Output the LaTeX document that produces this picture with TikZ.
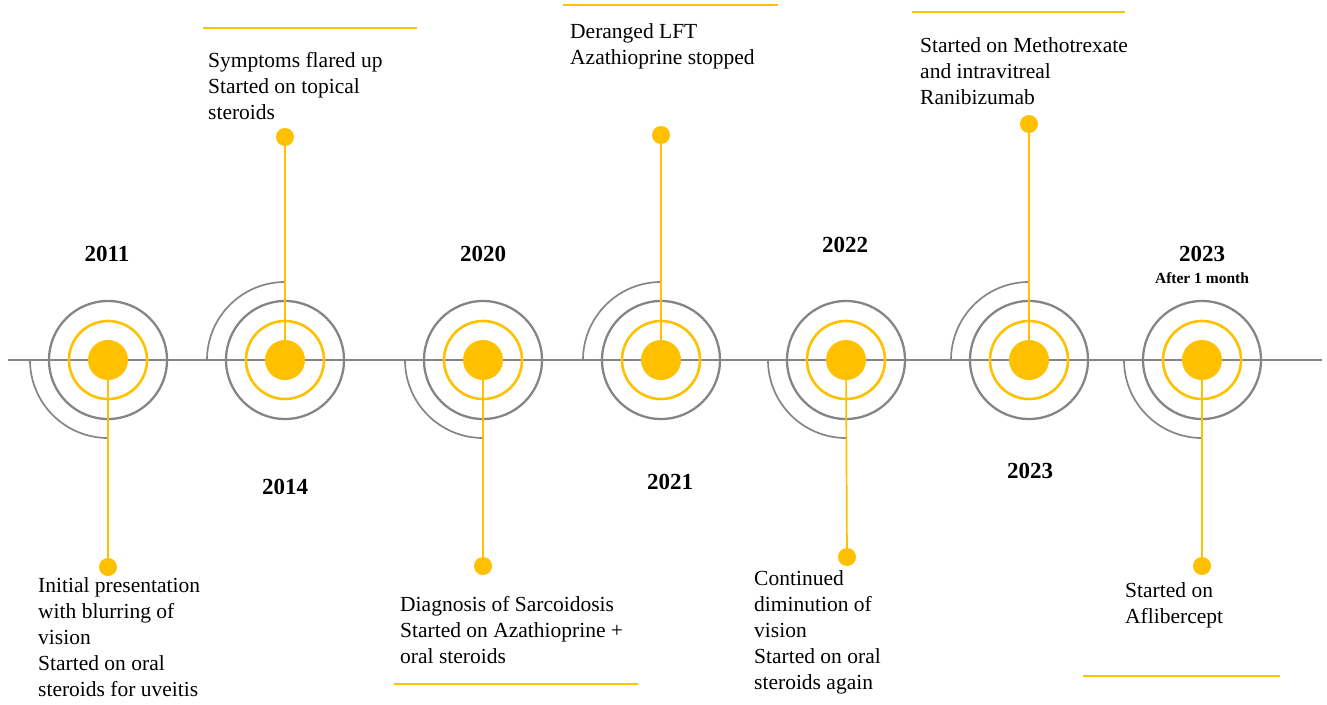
\documentclass[tikz,border=0pt]{standalone}
\usepackage{fontspec}
\setmainfont{Liberation Serif}
\definecolor{amber}{HTML}{FFC000}
\definecolor{ringgray}{HTML}{858585}

\begin{document}
\begin{tikzpicture}[x=1pt,y=-1pt,
  ring/.style={draw=ringgray,line width=2.3pt},
  yring/.style={draw=amber,line width=2.6pt},
  halfring/.style={draw=ringgray,line width=1.7pt},
  hub/.style={circle,fill=amber,minimum size=40pt,inner sep=0pt},
  tip/.style={circle,fill=amber,minimum size=18pt,inner sep=0pt},
  stem/.style={amber,line width=1.7pt},
  rule/.style={amber,line width=2pt},
  % notes sit on the baseline of their last line
  note/.style={anchor=base west,align=left,inner sep=0pt,font=\fontsize{21.5}{26}\selectfont},
  year/.style={anchor=base,inner sep=0pt,font=\fontsize{23}{26}\selectfont\bfseries}]
  \useasboundingbox (0,0) rectangle (1327,704);
  % time axis
  \coordinate (axisL) at (8,360);
  \coordinate (axisR) at (1322,360);
  \draw[ringgray,line width=2pt] (axisL) -- (axisR);
  % rings round each event
  \foreach \n/\x/\a in {1/108/90,2/285/270,3/483/90,4/661/270,5/846/90,6/1029/270,7/1202/90} {
    \draw[halfring] (\x-78,360) arc[start angle=180,end angle=\a,radius=78];
    \draw[ring] (\x,360) circle (59);
    \draw[yring] (\x,360) circle (39);
    \node[hub] (c\n) at (\x,360) {};
  }
  % 2011
  \node[year] (y1) at (107,261) {2011};
  \node[tip] (e1) at (108,567) {};
  \draw[stem] (c1) -- (e1);
  \node[note] (t1) at (38,696) {Initial presentation\\with blurring of\\vision\\Started on oral\\steroids for uveitis};
  % 2014
  \node[year] (y2) at (285,494) {2014};
  \node[tip] (e2) at (285,137) {};
  \draw[stem] (c2) -- (e2);
  \draw[rule] (203,28) -- (417,28);
  \node[note] (t2) at (208,119) {Symptoms flared up\\Started on topical\\steroids};
  % 2020
  \node[year] (y3) at (483,261) {2020};
  \node[tip] (e3) at (483,566) {};
  \draw[stem] (c3) -- (e3);
  \node[note] (t3) at (400,663) {Diagnosis of Sarcoidosis\\Started on Azathioprine +\\oral steroids};
  \draw[rule] (394,684) -- (638,684);
  % 2021
  \node[year] (y4) at (670,489) {2021};
  \node[tip] (e4) at (661,135) {};
  \draw[stem] (c4) -- (e4);
  \draw[rule] (563,5) -- (778,5);
  \node[note] (t4) at (570,64) {Deranged LFT\\Azathioprine stopped};
  % 2022
  \node[year] (y5) at (845,252) {2022};
  \node[tip] (e5) at (847,557) {};
  \draw[stem] (c5) -- (e5);
  \node[note] (t5) at (754,689) {Continued\\diminution of\\vision\\Started on oral\\steroids again};
  % 2023
  \node[year] (y6) at (1030,478) {2023};
  \node[tip] (e6) at (1029,124) {};
  \draw[stem] (c6) -- (e6);
  \draw[rule] (912,12) -- (1125,12);
  \node[note] (t6) at (920,104) {Started on Methotrexate\\and intravitreal\\Ranibizumab};
  % 2023, one month on
  \node[year] (y7) at (1202,261) {2023};
  \node[anchor=base,inner sep=0pt,font=\fontsize{15.5}{18}\selectfont\bfseries] (m7) at (1202,283) {After 1 month};
  \node[tip] (e7) at (1202,566) {};
  \draw[stem] (c7) -- (e7);
  \node[note] (t7) at (1125,623) {Started on\\Aflibercept};
  \draw[rule] (1083,676) -- (1280,676);
\end{tikzpicture}
\end{document}
